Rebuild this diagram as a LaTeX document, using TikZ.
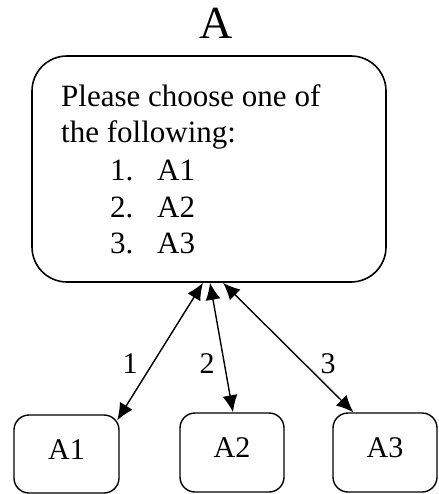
\documentclass[tikz,border=0pt]{standalone}
\usepackage{fontspec}
\setmainfont{Liberation Serif}
\usetikzlibrary{arrows.meta,calc}
\begin{document}
\begin{tikzpicture}[x=1pt,y=-1pt,
  bigbox/.style={draw,line width=1.6pt,rounded corners=35pt,minimum width=354pt,minimum height=226pt,inner sep=0pt},
  smallbox/.style={draw,line width=1.4pt,rounded corners=15pt,minimum width=104pt,minimum height=78pt,inner sep=0pt,font=\fontsize{30}{36}\selectfont,text height=20pt,text depth=10pt},
  txt/.style={font=\fontsize{31}{36}\selectfont,inner sep=0pt,anchor=base west},
  lbl/.style={font=\fontsize{30}{36}\selectfont,inner sep=0pt,anchor=base},
  link/.style={line width=1.4pt,{Latex[length=17pt,width=15pt]}-{Latex[length=17pt,width=15pt]}}]
\useasboundingbox (0,0) rectangle (438,494);
% title
\node[font=\fontsize{46}{50}\selectfont,inner sep=0pt,anchor=base] (title) at (216.5,39) {A};
% main box
\node[bigbox] (box) at (209,169) {};
\node[txt] (l1) at (61,107) {Please choose one of};
\node[txt] (l2) at (61,143) {the following:};
\node[txt] (n1) at (110,180) {1.};
\node[txt] (o1) at (157,180) {A1};
\node[txt] (n2) at (110,217) {2.};
\node[txt] (o2) at (157,217) {A2};
\node[txt] (n3) at (110,253) {3.};
\node[txt] (o3) at (157,253) {A3};
% option boxes
\node[smallbox,minimum width=105pt] (a1) at (66.5,454) {A1};
\node[smallbox,minimum height=79pt] (a2) at (232,452.5) {A2};
\node[smallbox,minimum height=79pt] (a3) at (385,452.5) {A3};
% connectors
\draw[link] ([xshift=-6pt]box.south) -- ([xshift=-2.5pt,yshift=-6pt]a1.north east);
\draw[link] ([xshift=1pt]box.south) -- ([xshift=1pt]a2.north);
\draw[link] ([xshift=14pt]box.south) -- ($(a3.north west)!0.2!(a3.north east)$);
% connector labels
\node[lbl] (k1) at (130,373) {1};
\node[lbl] (k2) at (207,373) {2};
\node[lbl] (k3) at (328,373) {3};
\end{tikzpicture}
\end{document}
